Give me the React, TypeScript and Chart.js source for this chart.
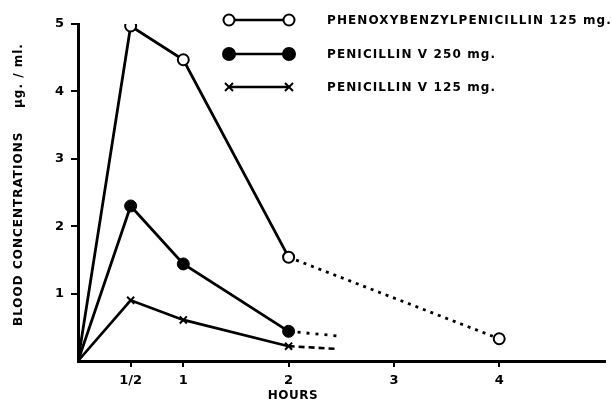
import React, { useEffect, useRef } from 'react';
import { Chart, registerables } from 'chart.js';

Chart.register(...registerables);

// ---- data ----
const xTickValues = [0.5, 1, 2, 3, 4];
const xTickLabels = ['1/2', '1', '2', '3', '4'];
const yTickValues = [1, 2, 3, 4, 5];
const yTickLabels = ['1', '2', '3', '4', '5'];

const phenoxyHours = [0, 0.5, 1, 2, 4];
const phenoxyValues = [0, 4.97, 4.47, 1.54, 0.33];
const penV250Hours = [0, 0.5, 1, 2, 2.48];
const penV250Values = [0, 2.3, 1.44, 0.44, 0.37];
const penV125Hours = [0, 0.5, 1, 2, 2.45];
const penV125Values = [0, 0.9, 0.61, 0.22, 0.18];

const seriesLabels = [
  'PHENOXYBENZYLPENICILLIN 125 mg.',
  'PENICILLIN V 250 mg.',
  'PENICILLIN V 125 mg.',
];
const xTitle = 'HOURS';
const yTitle = 'BLOOD CONCENTRATIONS';
const yUnit = 'µg. / ml.';

const FONT = '"DejaVu Sans", "Liberation Sans", sans-serif';

function toPoints(xs: number[], ys: number[]) {
  return xs.map((x, i) => ({ x, y: ys[i] }));
}

function drawMarker(ctx: CanvasRenderingContext2D, kind: string, x: number, y: number) {
  ctx.save();
  ctx.strokeStyle = '#000';
  ctx.lineWidth = 2;
  if (kind === 'open' || kind === 'filled') {
    ctx.beginPath();
    ctx.arc(x, y, kind === 'open' ? 5.5 : 6, 0, Math.PI * 2);
    ctx.fillStyle = kind === 'open' ? '#fff' : '#000';
    ctx.fill();
    ctx.stroke();
  } else {
    const r = 4;
    ctx.beginPath();
    ctx.moveTo(x - r, y - r);
    ctx.lineTo(x + r, y + r);
    ctx.moveTo(x + r, y - r);
    ctx.lineTo(x - r, y + r);
    ctx.stroke();
  }
  ctx.restore();
}

const annotationPlugin = {
  id: 'annotations',
  afterDraw(chart: any) {
    const ctx: CanvasRenderingContext2D = chart.ctx;
    ctx.save();
    ctx.fillStyle = '#000';
    // legend
    const kinds = ['open', 'filled', 'cross'];
    const rowsY = [20, 54, 87];
    kinds.forEach((k, i) => {
      const y = rowsY[i];
      ctx.beginPath();
      ctx.strokeStyle = '#000';
      ctx.lineWidth = 2.6;
      ctx.moveTo(229, y);
      ctx.lineTo(289, y);
      ctx.stroke();
      drawMarker(ctx, k, 229, y);
      drawMarker(ctx, k, 289, y);
      ctx.font = `bold 12px ${FONT}`;
      (ctx as any).letterSpacing = '1.1px';
      ctx.textBaseline = 'middle';
      ctx.textAlign = 'left';
      ctx.fillText(seriesLabels[i], 327, y + 1);
    });
    // x title
    (ctx as any).letterSpacing = '0.5px';
    ctx.font = `bold 12px ${FONT}`;
    ctx.textAlign = 'center';
    ctx.textBaseline = 'middle';
    ctx.fillText(xTitle, 293, 396);
    // y title
    ctx.translate(19, 0);
    ctx.rotate(-Math.PI / 2);
    ctx.textAlign = 'left';
    (ctx as any).letterSpacing = '1px';
    ctx.fillText(yTitle, -326, 0);
    ctx.fillText(yUnit, -108, 0);
    ctx.restore();
  },
};

export default function App() {
  const ref = useRef<HTMLCanvasElement | null>(null);
  useEffect(() => {
    if (!ref.current) return;
    const dotted = (dash: number[]) => (c: any) => (c.p0.parsed.x >= 2 ? dash : undefined);
    const chart = new Chart(ref.current, {
      type: 'line',
      data: {
        datasets: [
          {
            label: seriesLabels[0],
            data: toPoints(phenoxyHours, phenoxyValues),
            borderColor: '#000',
            borderWidth: 2.8,
            pointRadius: [0, 5.5, 5.5, 5.5, 5.5],
            pointStyle: 'circle',
            pointBackgroundColor: '#fff',
            pointBorderColor: '#000',
            pointBorderWidth: 2,
            segment: { borderDash: dotted([3, 5]) },
          },
          {
            label: seriesLabels[1],
            data: toPoints(penV250Hours, penV250Values),
            borderColor: '#000',
            borderWidth: 2.8,
            pointRadius: [0, 6, 6, 6, 0],
            pointStyle: 'circle',
            pointBackgroundColor: '#000',
            pointBorderColor: '#000',
            pointBorderWidth: 1,
            segment: { borderDash: dotted([3, 6]) },
          },
          {
            label: seriesLabels[2],
            data: toPoints(penV125Hours, penV125Values),
            borderColor: '#000',
            borderWidth: 2.6,
            pointRadius: [0, 5, 5, 5, 0],
            pointStyle: 'crossRot',
            pointBackgroundColor: '#fff',
            pointBorderColor: '#000',
            pointBorderWidth: 2,
            segment: { borderDash: dotted([6, 4]) },
          },
        ],
      },
      options: {
        animation: false,
        responsive: false,
        maintainAspectRatio: false,
        layout: { padding: { top: 24, right: 0, left: 0, bottom: 0 } },
        plugins: { legend: { display: false }, tooltip: { enabled: false } },
        scales: {
          x: {
            type: 'linear',
            min: 0,
            max: 5,
            afterBuildTicks: (s: any) => {
              s.ticks = xTickValues.map((v) => ({ value: v }));
            },
            afterFit: (s: any) => {
              s.height = 42;
            },
            ticks: {
              color: '#000',
              font: { family: FONT, size: 13, weight: 'bold' },
              padding: 6,
              maxRotation: 0,
              autoSkip: false,
              callback: (v: any) => {
                const i = xTickValues.indexOf(Number(v));
                return i >= 0 ? xTickLabels[i] : '';
              },
            },
            grid: { drawOnChartArea: false, drawTicks: true, tickLength: 6, color: '#000', lineWidth: 2 },
            border: { display: true, color: '#000', width: 3 },
          },
          y: {
            type: 'linear',
            min: 0,
            max: 5,
            afterBuildTicks: (s: any) => {
              s.ticks = yTickValues.map((v) => ({ value: v }));
            },
            afterFit: (s: any) => {
              s.width = 78;
            },
            ticks: {
              color: '#000',
              font: { family: FONT, size: 13, weight: 'bold' },
              padding: 7,
              autoSkip: false,
              callback: (v: any) => {
                const i = yTickValues.indexOf(Number(v));
                return i >= 0 ? yTickLabels[i] : '';
              },
            },
            grid: { drawOnChartArea: false, drawTicks: true, tickLength: 7, color: '#000', lineWidth: 2 },
            border: { display: true, color: '#000', width: 3 },
          },
        },
      },
      plugins: [annotationPlugin],
    } as any);
    return () => chart.destroy();
  }, []);
  return (
    <div style={{ position: 'absolute', left: 0, top: 0, width: 612, height: 403, background: '#fff' }}>
      <canvas ref={ref} width={612} height={403} />
    </div>
  );
}
